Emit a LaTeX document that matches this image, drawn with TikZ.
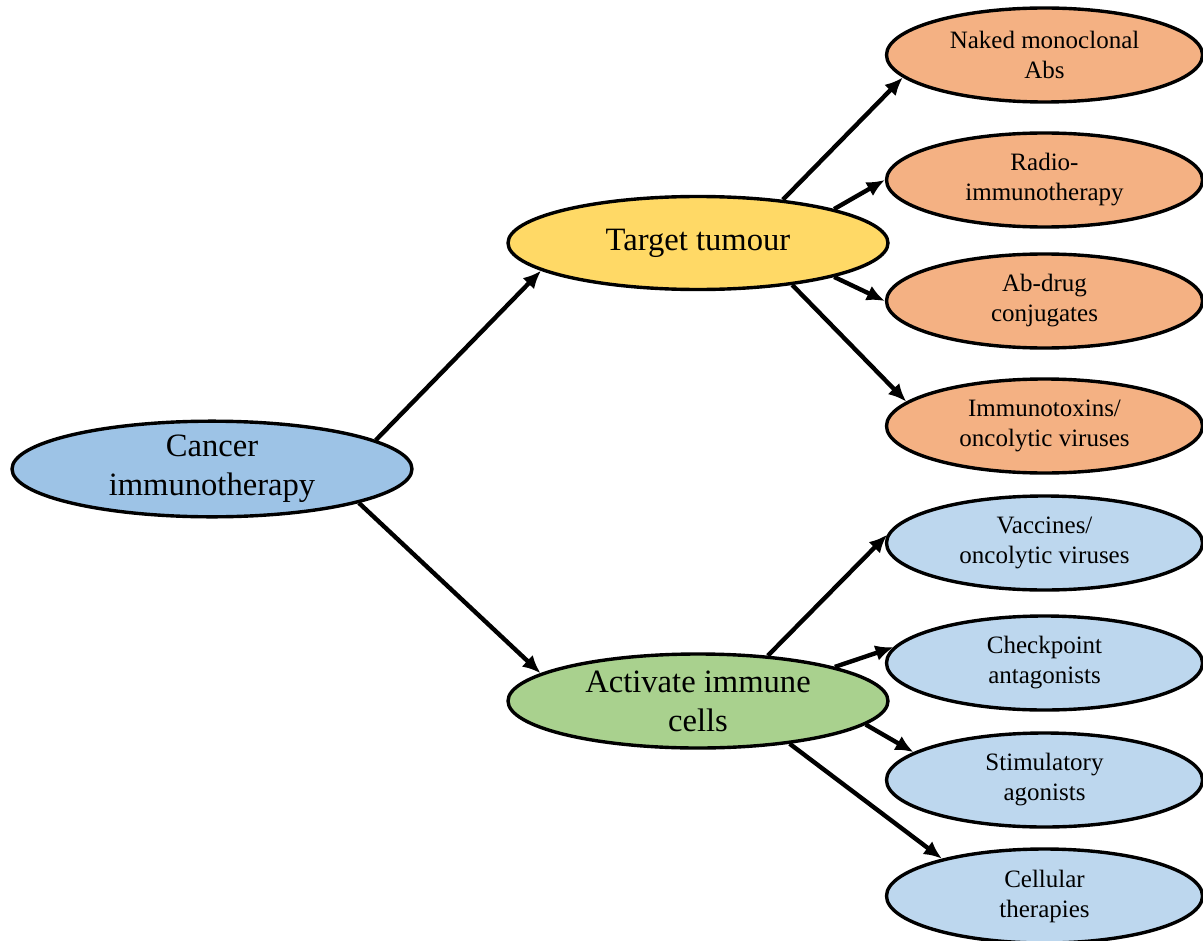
\documentclass[tikz,border=0pt]{standalone}
\usepackage{fontspec}
\setmainfont{Liberation Serif}
\usetikzlibrary{arrows.meta,shapes.geometric}
\definecolor{cblue}{HTML}{9DC3E6}
\definecolor{cyellow}{HTML}{FFD966}
\definecolor{cgreen}{HTML}{A9D18E}
\definecolor{corange}{HTML}{F4B183}
\definecolor{clblue}{HTML}{BDD7EE}
\begin{document}
\begin{tikzpicture}[x=0.5pt,y=-0.5pt,
  oval/.style={ellipse, draw=black, line width=1.7pt, inner sep=0pt, align=center, text=black},
  big/.style={oval, font=\fontsize{16.3}{19.5}\selectfont},
  small/.style={oval, font=\fontsize{12.5}{15}\selectfont, minimum width=158pt, minimum height=47pt},
  arr/.style={-{Latex[length=9pt,width=8pt]}, line width=2.2pt}]
\useasboundingbox (0,0) rectangle (1203,941);

\node[big, fill=cblue, minimum width=200pt, minimum height=47pt] (ci) at (212,469) {Cancer\\immunotherapy};
\node[big, fill=cyellow, minimum width=190pt, minimum height=46.5pt] (tt) at (698,243) {Target tumour};
\node[big, fill=cgreen, minimum width=190pt, minimum height=47pt] (ai) at (698,701) {Activate immune\\cells};

\node[small, fill=corange] (n1) at (1044.5,55) {Naked monoclonal\\Abs};
\node[small, fill=corange] (n2) at (1044.5,180) {Radio-\\immunotherapy};
\node[small, fill=corange] (n3) at (1044.5,301) {Ab-drug\\conjugates};
\node[small, fill=corange] (n4) at (1044.5,426) {Immunotoxins/\\oncolytic viruses};
\node[small, fill=clblue] (n5) at (1044.5,543) {Vaccines/\\oncolytic viruses};
\node[small, fill=clblue] (n6) at (1044.5,663) {Checkpoint\\antagonists};
\node[small, fill=clblue] (n7) at (1044.5,780) {Stimulatory\\agonists};
\node[small, fill=clblue] (n8) at (1044.5,896) {Cellular\\therapies};

\draw[arr] (ci.10.6) -- (tt.190.5);
\draw[arr] (ci.-13) -- (ai.170.3);
\draw[arr] (tt.27.6) -- (n1.189);
\draw[arr] (tt.14.4) -- (n2.180);
\draw[arr] (tt.-14.5) -- (n3.180.5);
\draw[arr] (tt.-24.8) -- (n4.170.4);
\draw[arr] (ai.33.9) -- (n5.177);
\draw[arr] (ai.14) -- (n6.174.7);
\draw[arr] (ai.-8.7) -- (n7.168.4);
\draw[arr] (ai.-25.5) -- (n8.160.3);
\end{tikzpicture}
\end{document}
